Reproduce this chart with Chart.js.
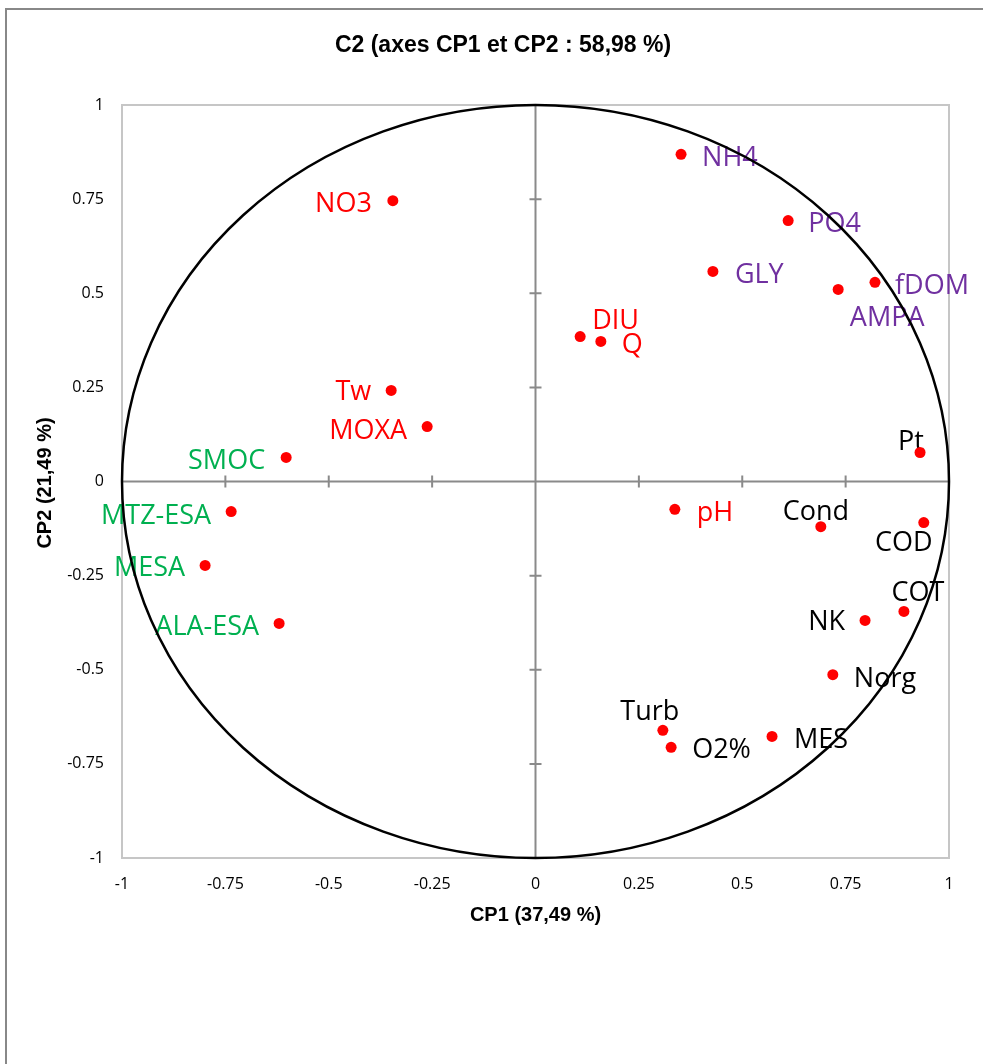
<!DOCTYPE html>
<html lang="fr">
<head>
<meta charset="utf-8">
<title>C2 (axes CP1 et CP2 : 58,98 %)</title>
<script src="https://cdn.jsdelivr.net/npm/chart.js@4.4.1/dist/chart.umd.min.js"></script>
<style>
  html, body { margin: 0; padding: 0; background: #fff; }
  canvas { display: block; }
</style>
</head>
<body>
<canvas id="pcaChart" width="983" height="1064"></canvas>
<script>
'use strict';

/* ----------------------------------------------------------
   DATA  (correlations with CP1 / CP2)
---------------------------------------------------------- */
const VARIABLES = ['NH4', 'NO3', 'PO4', 'GLY', 'fDOM', 'AMPA', 'DIU', 'Q', 'Tw', 'MOXA',
                   'SMOC', 'Pt', 'MTZ-ESA', 'pH', 'Cond', 'COD', 'MESA', 'COT', 'NK',
                   'ALA-ESA', 'Norg', 'Turb', 'MES', 'O2%'];
const CP1 = [0.352, -0.345, 0.611, 0.429, 0.821, 0.732, 0.108, 0.158, -0.349, -0.262,
             -0.603, 0.930, -0.736, 0.337, 0.690, 0.939, -0.799, 0.891, 0.797,
             -0.620, 0.719, 0.308, 0.572, 0.328];
const CP2 = [0.869, 0.746, 0.693, 0.558, 0.529, 0.510, 0.385, 0.372, 0.242, 0.146,
             0.064, 0.077, -0.080, -0.074, -0.120, -0.109, -0.223, -0.345, -0.369,
             -0.377, -0.513, -0.661, -0.677, -0.706];
const TICKS = [-1, -0.75, -0.5, -0.25, 0, 0.25, 0.5, 0.75, 1];

/* variable groups -> label colour */
const GROUPS = ['nut', 'red', 'nut', 'nut', 'nut', 'nut', 'red', 'red', 'red', 'red',
                'meta', 'phys', 'meta', 'red', 'phys', 'phys', 'meta', 'phys', 'phys',
                'meta', 'phys', 'phys', 'phys', 'phys'];
const GROUP_COLORS = { nut: '#7030a0', red: '#ff0000', meta: '#00b050', phys: '#000000' };

/* label placement relative to its point: [dx, dy, align] */
const LABEL_POS = [
  [21, 2, 'left'], [-21, 2, 'right'], [20, 2, 'left'], [22, 2, 'left'], [20, 2, 'left'],
  [49, 27, 'center'], [12, -17, 'left'], [21, 2, 'left'], [-20, 0, 'right'], [-20, 3, 'right'],
  [-21, 2, 'right'], [-9, -12, 'center'], [-20, 3, 'right'], [22, 2, 'left'], [-5, -16, 'center'],
  [-20, 19, 'center'], [-20, 1, 'right'], [14, -20, 'center'], [-20, 0, 'right'],
  [-20, 2, 'right'], [21, 3, 'left'], [-13, -20, 'center'], [22, 2, 'left'], [21, 1, 'left']
];

const LABEL_FONT = '27px "Open Sans", sans-serif';
const TICK_FONT  = { family: '"Open Sans", sans-serif', size: 16 };

/* ----------------------------------------------------------
   PLUGIN: plot box, centre axes, correlation circle, labels
---------------------------------------------------------- */
const circlePlugin = {
  id: 'circlePlugin',
  beforeDatasetsDraw(chart) {
    const { ctx, chartArea: a, scales: { x, y } } = chart;
    const x0 = x.getPixelForValue(0);
    const y0 = y.getPixelForValue(0);

    ctx.save();
    /* plot area box */
    ctx.strokeStyle = '#c6c6c6';
    ctx.lineWidth = 2;
    ctx.strokeRect(a.left, a.top, a.right - a.left, a.bottom - a.top);

    /* axes through the origin, with cross ticks */
    ctx.strokeStyle = '#8a8a8a';
    ctx.lineWidth = 2;
    ctx.beginPath();
    ctx.moveTo(a.left, y0);  ctx.lineTo(a.right, y0);
    ctx.moveTo(x0, a.top);   ctx.lineTo(x0, a.bottom);
    TICKS.forEach(v => {
      const px = x.getPixelForValue(v);
      const py = y.getPixelForValue(v);
      ctx.moveTo(px, y0 - 6); ctx.lineTo(px, y0 + 6);
      ctx.moveTo(x0 - 6, py); ctx.lineTo(x0 + 6, py);
    });
    ctx.stroke();

    /* variable labels */
    ctx.font = LABEL_FONT;
    ctx.textBaseline = 'middle';
    VARIABLES.forEach((name, i) => {
      const [dx, dy, align] = LABEL_POS[i];
      ctx.fillStyle = GROUP_COLORS[GROUPS[i]];
      ctx.textAlign = align;
      ctx.fillText(name, x.getPixelForValue(CP1[i]) + dx, y.getPixelForValue(CP2[i]) + dy + 2);
    });

    /* unit circle (ellipse in pixels since scales differ) */
    const rx = x.getPixelForValue(1) - x0;
    const ry = y0 - y.getPixelForValue(1);
    ctx.strokeStyle = '#000';
    ctx.lineWidth = 2.5;
    ctx.beginPath();
    ctx.ellipse(x0, y0, rx, ry, 0, 0, Math.PI * 2);
    ctx.stroke();
    ctx.restore();
  },

  afterDraw(chart) {
    const { ctx, chartArea: a } = chart;
    ctx.save();

    /* outer chart frame (continues past the picture edge) */
    ctx.strokeStyle = '#888';
    ctx.lineWidth = 2;
    ctx.beginPath();
    ctx.moveTo(6, chart.height + 5);
    ctx.lineTo(6, 9);
    ctx.lineTo(chart.width + 5, 9);
    ctx.stroke();

    /* titles */
    ctx.fillStyle = '#000';
    ctx.textAlign = 'center';
    ctx.textBaseline = 'middle';
    ctx.font = 'bold 23px "Liberation Sans", Arial, sans-serif';
    ctx.fillText('C2 (axes CP1 et CP2 : 58,98 %)', 503, 46);

    ctx.font = 'bold 20px "Liberation Sans", Arial, sans-serif';
    ctx.fillText('CP1 (37,49 %)', (a.left + a.right) / 2, 915);

    ctx.translate(45, 483);
    ctx.rotate(-Math.PI / 2);
    ctx.fillText('CP2 (21,49 %)', 0, 0);
    ctx.restore();
  }
};

/* ----------------------------------------------------------
   CHART
---------------------------------------------------------- */
const fixedTicks = scale => { scale.ticks = TICKS.map(v => ({ value: v })); };

new Chart(document.getElementById('pcaChart'), {
  type: 'scatter',
  data: {
    datasets: [{
      data: CP1.map((v, i) => ({ x: v, y: CP2[i] })),
      pointBackgroundColor: '#ff0000',
      pointBorderWidth: 0,
      pointRadius: 5.5,
    }],
  },
  options: {
    responsive: false,
    animation: false,
    layout: { padding: { top: 105, right: 34, bottom: 0, left: 0 } },
    plugins: {
      legend: { display: false },
      tooltip: { enabled: false },
    },
    scales: {
      x: {
        type: 'linear',
        min: -1,
        max: 1,
        afterBuildTicks: fixedTicks,
        afterFit(scale) { scale.height = 206; },
        grid: { display: false, drawTicks: false },
        border: { display: false },
        ticks: { font: TICK_FONT, color: '#000', padding: 17, maxRotation: 0,
                 callback: v => String(v) },
      },
      y: {
        type: 'linear',
        min: -1,
        max: 1,
        afterBuildTicks: fixedTicks,
        afterFit(scale) { scale.width = 122; },
        grid: { display: false, drawTicks: false },
        border: { display: false },
        ticks: { font: TICK_FONT, color: '#000', padding: 18,
                 callback: v => String(v) },
      },
    },
  },
  plugins: [circlePlugin],
});
</script>
</body>
</html>
